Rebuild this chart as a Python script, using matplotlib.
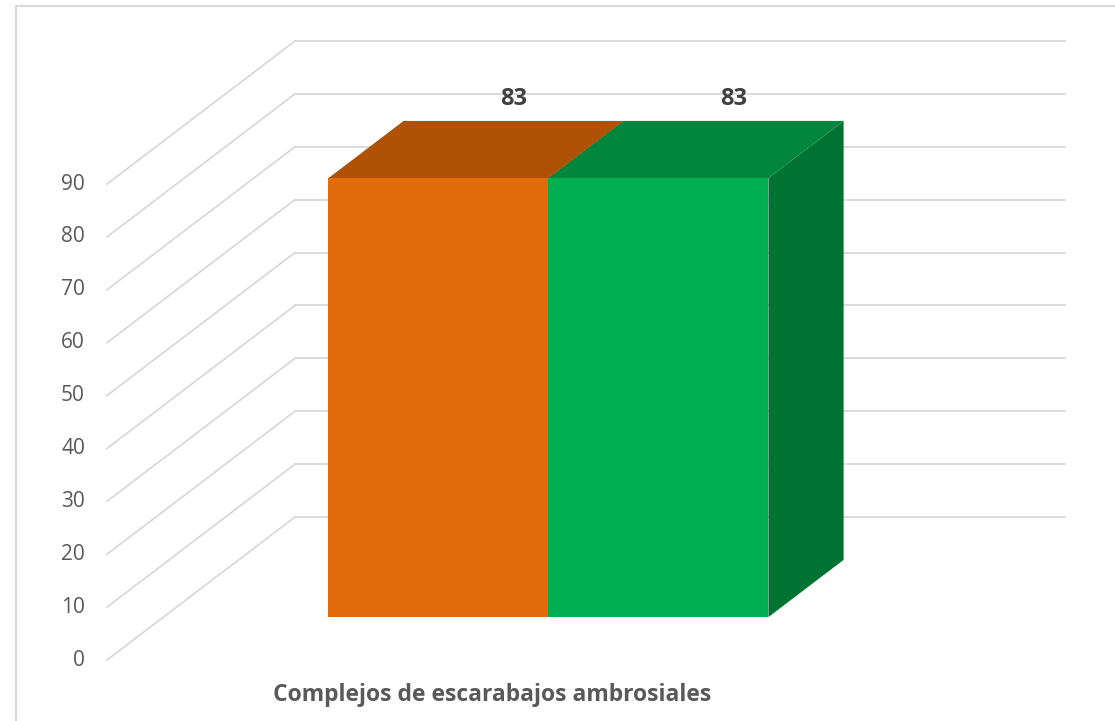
import matplotlib.pyplot as plt
from matplotlib.patches import Polygon
from matplotlib.lines import Line2D

# datos
categoria = "Complejos de escarabajos ambrosiales"
series = ["Serie 1", "Serie 2"]
valores = [83, 83]
colores_frente = ["#E36C0A", "#00B050"]
colores_arriba = ["#AF5206", "#00863D"]
colores_lado = ["#8C4205", "#007232"]
ticks_y = [0, 10, 20, 30, 40, 50, 60, 70, 80, 90]

plt.rcParams['font.family'] = ['Open Sans', 'DejaVu Sans']

fig = plt.figure(figsize=(11.15, 7.21), dpi=100)
ax = fig.add_axes([0, 0, 1, 1])
ax.axis("off")

# eje x: la categoria ocupa [0, 1] en el suelo frontal; eje y en unidades del valor
px_x0, px_x1 = 107, 877
px_y0, px_por_unidad = 660, 476 / 90
ax.set_xlim((0 - px_x0) / (px_x1 - px_x0), (1115 - px_x0) / (px_x1 - px_x0))
ax.set_ylim((px_y0 - 721) / px_por_unidad, px_y0 / px_por_unidad)

# desplazamiento de profundidad (pared del fondo)
DX = 188 / (px_x1 - px_x0)
DY = 143 / px_por_unidad

def proy(x, v, d):
    return (x + d * DX, v + d * DY)

gris = "#D9D9D9"

# rejilla: pared del fondo y pared izquierda
for t in ticks_y:
    a = proy(0, t, 1)
    b = proy(1, t, 1)
    ax.plot([a[0], b[0]], [a[1], b[1]], color=gris, lw=1.3, zorder=1)
    c = proy(0, t, 0)
    ax.plot([c[0], a[0]], [c[1], a[1]], color=gris, lw=1.3, zorder=1)
    ax.text(c[0] - 22 / (px_x1 - px_x0), t, str(t), ha="right", va="center",
            fontsize=15, color="#595959")

# barras 3D
gap = 1.5
ancho = 1 / (len(series) + gap)
inicio = gap / 2 * ancho
d0, d1 = 0.3, 0.7

for i, v in enumerate(valores):
    xa = inicio + i * ancho
    xb = xa + ancho
    frente = [proy(xa, 0, d0), proy(xb, 0, d0), proy(xb, v, d0), proy(xa, v, d0)]
    arriba = [proy(xa, v, d0), proy(xb, v, d0), proy(xb, v, d1), proy(xa, v, d1)]
    lado = [proy(xb, 0, d0), proy(xb, 0, d1), proy(xb, v, d1), proy(xb, v, d0)]
    ax.add_patch(Polygon(lado, closed=True, facecolor=colores_lado[i], edgecolor="none", zorder=3 + i))
    ax.add_patch(Polygon(arriba, closed=True, facecolor=colores_arriba[i], edgecolor="none", zorder=3 + i))
    ax.add_patch(Polygon(frente, closed=True, facecolor=colores_frente[i], edgecolor="none", zorder=3 + i))
    pt = proy((xa + xb) / 2, v, d1)
    ax.annotate(str(v), pt, xytext=(0, 22), textcoords="offset pixels",
                ha="center", va="center", fontsize=17, fontweight="bold",
                color="#404040", zorder=10)

ax.text(0.5, (px_y0 - 695) / px_por_unidad, categoria, ha="center", va="center",
        fontsize=16.5, fontweight="bold", color="#595959")

# borde del grafico
fig.add_artist(Line2D([16 / 1115, 1], [1 - 6 / 721, 1 - 6 / 721], color=gris, lw=1.5))
fig.add_artist(Line2D([16 / 1115, 16 / 1115], [0, 1 - 6 / 721], color=gris, lw=1.5))

fig.savefig("out.png", dpi=100)
